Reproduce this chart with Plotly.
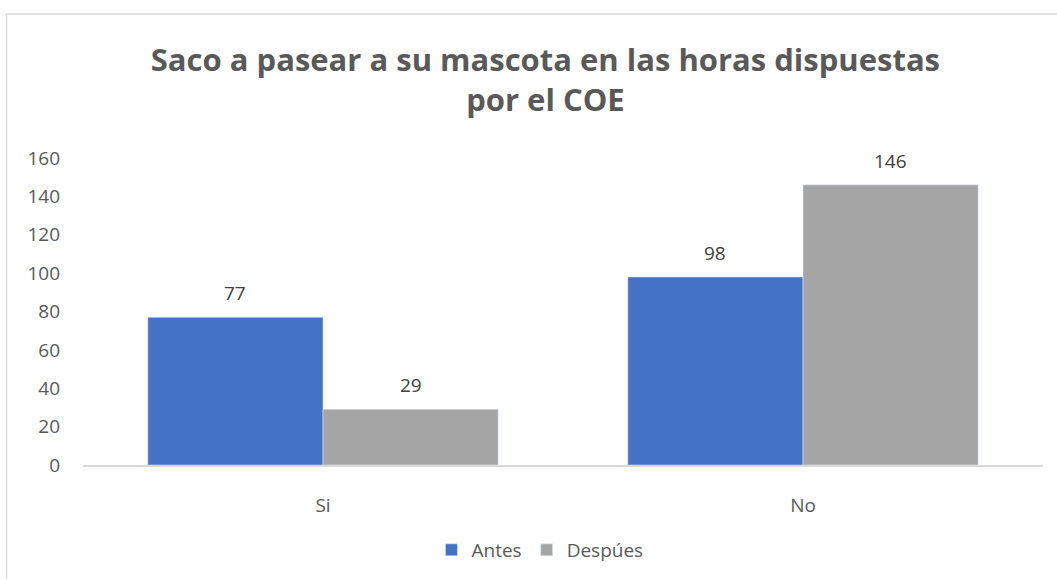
import plotly.graph_objects as go

categories = ["Si", "No"]
antes = [77, 98]
despues = [29, 146]
series_names = ["Antes", "Despúes"]
y_ticks = [0, 20, 40, 60, 80, 100, 120, 140, 160]

W, H = 1057, 580
ml, mr, mt, mb = 83, 14, 158, 114
pw, ph = W - ml - mr, H - mt - mb
bargap = 0.27
half_bar = (1 - bargap) / 4  # half width of one bar in category units

font_fam = "Open Sans, Noto Sans, sans-serif"
txt_col = "#595959"
lbl_col = "#404040"
fs = 19

fig = go.Figure()
fig.add_trace(go.Bar(x=[0, 1], y=antes, name=series_names[0], marker_color="#4472C4"))
fig.add_trace(go.Bar(x=[0, 1], y=despues, name=series_names[1], marker_color="#A5A5A5"))

annotations = []
for i, v in enumerate(antes):
    annotations.append(dict(x=i - half_bar, y=v, text=str(v), showarrow=False, xref="x", yref="y",
                            yanchor="bottom", yshift=9, font=dict(size=fs, color=lbl_col)))
for i, v in enumerate(despues):
    annotations.append(dict(x=i + half_bar, y=v, text=str(v), showarrow=False, xref="x", yref="y",
                            yanchor="bottom", yshift=9, font=dict(size=fs, color=lbl_col)))

def px_to_paper_x(px):
    return (px - ml) / pw

def px_to_paper_y(py):
    return (H - mb - py) / ph

fig.update_layout(
    width=W, height=H,
    margin=dict(l=ml, r=mr, t=mt, b=mb),
    paper_bgcolor="white", plot_bgcolor="white",
    barmode="group", bargap=bargap, bargroupgap=0,
    title=dict(text="<b>Saco a pasear a su mascota en las horas dispuestas<br>por el COE</b>",
               x=0.516, xanchor="center", y=1 - 71 / H, yanchor="top",
               font=dict(size=31, color=txt_col, family=font_fam)),
    font=dict(family=font_fam, color=txt_col, size=fs),
    xaxis=dict(range=[-0.5, 1.5], tickvals=[0, 1], ticktext=categories,
               showline=True, linecolor="#D9D9D9", linewidth=1.5, ticks="",
               showgrid=False, zeroline=False,
               tickfont=dict(size=fs, color=txt_col), ticklabelstandoff=22),
    yaxis=dict(range=[0, 160], tickvals=y_ticks, showgrid=False, zeroline=False,
               showline=False, ticks="", tickfont=dict(size=fs, color=txt_col),
               ticklabelstandoff=22),
    legend=dict(orientation="h", x=0.476, xanchor="center", y=px_to_paper_y(550), yanchor="middle",
                font=dict(size=fs, color=txt_col), traceorder="normal"),
    annotations=annotations,
    shapes=[
        dict(type="line", xref="paper", yref="paper",
             x0=px_to_paper_x(6.5), x1=px_to_paper_x(1057), y0=px_to_paper_y(13.5), y1=px_to_paper_y(13.5),
             line=dict(color="#D9D9D9", width=1.5)),
        dict(type="line", xref="paper", yref="paper",
             x0=px_to_paper_x(6.5), x1=px_to_paper_x(6.5), y0=px_to_paper_y(13.5), y1=px_to_paper_y(580),
             line=dict(color="#D9D9D9", width=1.5)),
    ],
)

fig.write_html("out.html", config={"displayModeBar": False},
               post_script="document.body.style.margin='0';")
